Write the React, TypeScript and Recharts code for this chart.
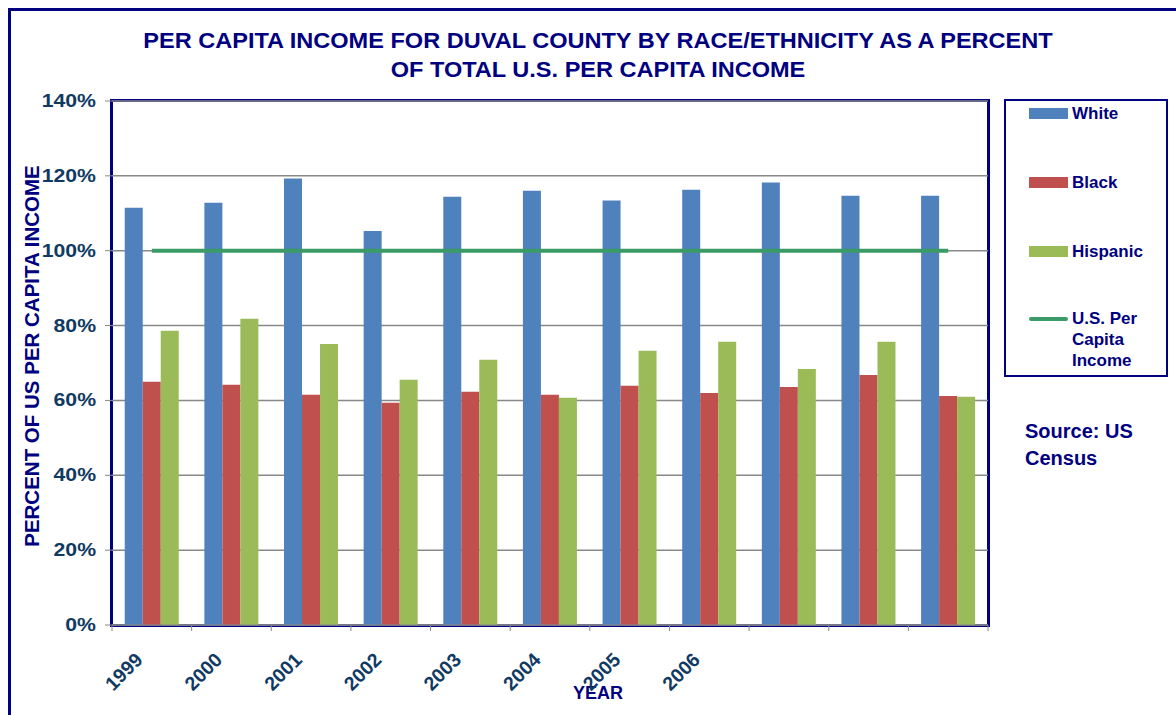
import React from 'react';
import { ComposedChart, Bar, Line, XAxis, YAxis, CartesianGrid } from 'recharts';

// Categories (last three slots carry no label in the original)
const yearLabels = ['1999', '2000', '2001', '2002', '2003', '2004', '2005', '2006', '', '', ''];
const white = [111.5, 112.8, 119.3, 105.3, 114.4, 116.0, 113.4, 116.3, 118.2, 114.7, 114.7];
const black = [65.0, 64.2, 61.5, 59.4, 62.3, 61.5, 63.9, 62.0, 63.6, 66.8, 61.2];
const hispanic = [78.6, 81.8, 75.1, 65.5, 70.9, 60.7, 73.3, 75.7, 68.4, 75.7, 61.0];
const usIncome = [100, 100, 100, 100, 100, 100, 100, 100, 100, 100, 100];
const yTicks = [0, 20, 40, 60, 80, 100, 120, 140];

const NAVY = '#000080';
const TICK = '#113A63';
const FONT = 'Arial, "Liberation Sans", Helvetica, sans-serif';

const data = yearLabels.map((label, i) => ({
  slot: i,
  white: white[i],
  black: black[i],
  hispanic: hispanic[i],
  us: usIncome[i],
}));

const YearTick = (props: any) => {
  const { x, y, payload, index, width } = props;
  const band = width / data.length;
  const left = x - band / 2;
  const label = yearLabels[payload.value];
  const ty = y + 28;
  return (
    <g>
      <line x1={left} y1={y - 8} x2={left} y2={y - 2} stroke="#888" strokeWidth={1} />
      {index === data.length - 1 && (
        <line x1={left + band} y1={y - 8} x2={left + band} y2={y - 2} stroke="#888" strokeWidth={1} />
      )}
      {label && (
        <text
          x={x - 8}
          y={ty}
          transform={`rotate(-45, ${x - 8}, ${ty})`}
          textAnchor="end"
          fill={TICK}
          fontSize={19.5}
          fontWeight="bold"
          fontFamily={FONT}
        >
          {label}
        </text>
      )}
    </g>
  );
};

const PercentTick = (props: any) => {
  const { x, y, payload } = props;
  return (
    <text
      transform={`translate(${x}, ${y + 6}) scale(1.18, 1)`}
      textAnchor="end"
      fill={TICK}
      fontSize={18}
      fontWeight="bold"
      fontFamily={FONT}
    >
      {`${payload.value}%`}
    </text>
  );
};

const legendItems = [
  { name: 'White', color: '#4F81BD', type: 'bar', top: 13 },
  { name: 'Black', color: '#C0504D', type: 'bar', top: 82 },
  { name: 'Hispanic', color: '#9BBB59', type: 'bar', top: 151 },
  { name: 'U.S. Per|Capita|Income', color: '#3A9B66', type: 'line', top: 218 },
];

const ChartLegend = () => (
  <div
    style={{
      position: 'absolute',
      left: 1004,
      top: 99,
      width: 160,
      height: 274,
      border: `2px solid ${NAVY}`,
      fontFamily: FONT,
      fontWeight: 'bold',
      fontSize: 17,
      color: NAVY,
    }}
  >
    {legendItems.map((item) => (
      <div key={item.name}>
        <div
          style={{
            position: 'absolute',
            left: 23,
            top: item.top - (item.type === 'bar' ? 6 : 2),
            width: 39,
            height: item.type === 'bar' ? 11 : 4,
            background: item.color,
            borderRadius: item.type === 'line' ? 2 : 0,
          }}
        />
        <div style={{ position: 'absolute', left: 66, top: item.top - 11, lineHeight: '21px' }}>
          {item.name.split('|').map((t) => (
            <div key={t}>{t}</div>
          ))}
        </div>
      </div>
    ))}
  </div>
);

export default function App() {
  return (
    <div style={{ position: 'relative', width: 1176, height: 715, background: '#fff', overflow: 'hidden' }}>
      <style>{`body{margin:0}`}</style>
      {/* outer frame */}
      <div
        style={{
          position: 'absolute',
          left: 8,
          top: 8,
          width: 1200,
          height: 720,
          borderLeft: `3px solid ${NAVY}`,
          borderTop: `3px solid ${NAVY}`,
        }}
      />
      {/* plot area border */}
      <div
        style={{
          position: 'absolute',
          left: 110,
          top: 99,
          width: 874,
          height: 522,
          border: `3px solid ${NAVY}`,
        }}
      />
      <div
        style={{
          position: 'absolute',
          left: 0,
          width: 1196,
          top: 26,
          textAlign: 'center',
          fontFamily: FONT,
          fontWeight: 'bold',
          fontSize: 22,
          lineHeight: '29px',
          color: NAVY,
          transform: 'scaleX(1.07)',
          transformOrigin: '598px 0',
        }}
      >
        <div>PER CAPITA INCOME FOR DUVAL COUNTY BY RACE/ETHNICITY AS A PERCENT</div>
        <div>OF TOTAL U.S. PER CAPITA INCOME</div>
      </div>
      <div
        style={{
          position: 'absolute',
          left: 32,
          top: 356,
          transform: 'translate(-50%, -50%) rotate(-90deg)',
          whiteSpace: 'nowrap',
          fontFamily: FONT,
          fontWeight: 'bold',
          fontSize: 20.5,
          color: NAVY,
        }}
      >
        PERCENT OF US PER CAPITA INCOME
      </div>
      <div
        style={{
          position: 'absolute',
          left: 598,
          top: 693,
          transform: 'translate(-50%, -50%)',
          fontFamily: FONT,
          fontWeight: 'bold',
          fontSize: 18,
          color: NAVY,
        }}
      >
        YEAR
      </div>
      <div
        style={{
          position: 'absolute',
          left: 1025,
          top: 418,
          fontFamily: FONT,
          fontWeight: 'bold',
          fontSize: 20,
          lineHeight: '27px',
          color: NAVY,
        }}
      >
        <div>Source: US</div>
        <div>Census</div>
      </div>
      <ChartLegend />
      <div style={{ position: 'absolute', left: 0, top: 0 }}>
        <ComposedChart
          width={1176}
          height={715}
          data={data}
          margin={{ top: 101, right: 188, bottom: 30, left: 42 }}
          barCategoryGap="16%"
          barGap={0}
        >
          <CartesianGrid vertical={false} stroke="#888" strokeWidth={1.5} />
          <XAxis
            dataKey="slot"
            type="category"
            axisLine={{ stroke: '#888' }}
            tickLine={false}
            tick={<YearTick />}
            interval={0}
            height={60}
          />
          <YAxis
            domain={[0, 140]}
            ticks={yTicks}
            width={70}
            axisLine={false}
            tickLine={{ stroke: '#888' }}
            tickSize={7}
            tickMargin={9}
            tick={<PercentTick />}
          />
          <Bar dataKey="white" name="White" fill="#4F81BD" isAnimationActive={false} />
          <Bar dataKey="black" name="Black" fill="#C0504D" isAnimationActive={false} />
          <Bar dataKey="hispanic" name="Hispanic" fill="#9BBB59" isAnimationActive={false} />
          <Line
            type="linear"
            dataKey="us"
            name="U.S. Per Capita Income"
            stroke="#3A9B66"
            strokeWidth={4}
            dot={false}
            isAnimationActive={false}
          />
        </ComposedChart>
      </div>
    </div>
  );
}
